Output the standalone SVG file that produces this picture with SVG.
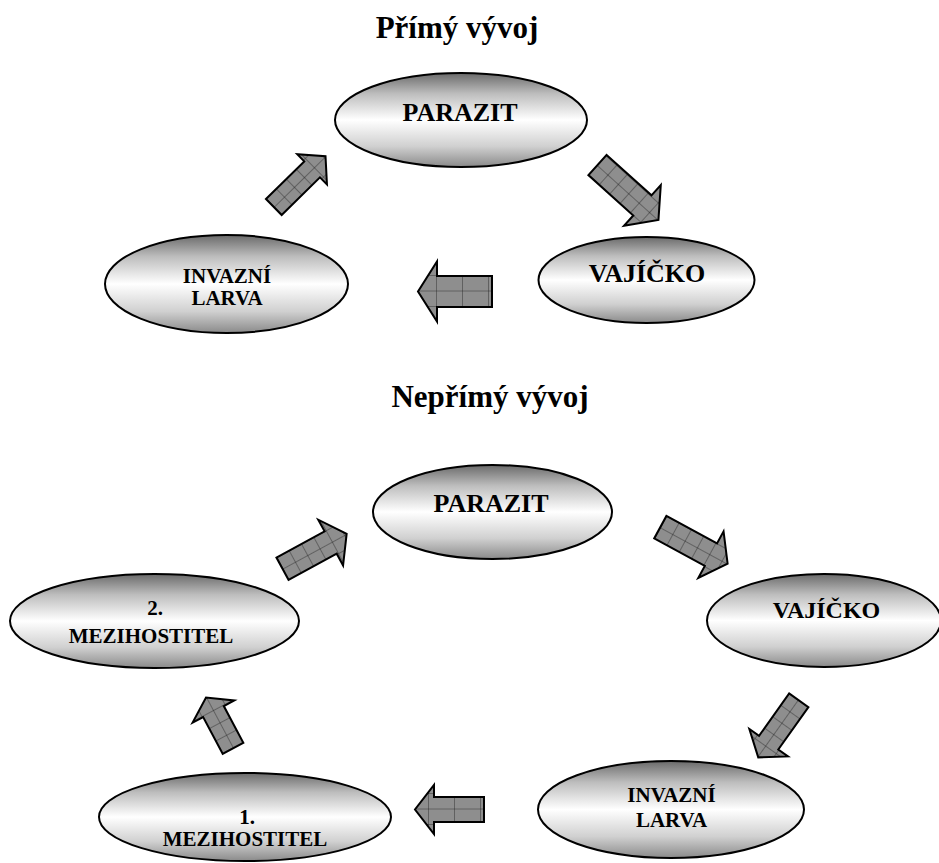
<svg xmlns="http://www.w3.org/2000/svg" width="939" height="863" viewBox="0 0 939 863">
<defs>
<linearGradient id="eg" x1="0" y1="0" x2="0" y2="1">
<stop offset="0" stop-color="#6a6a6a"/>
<stop offset="0.22" stop-color="#bdbdbd"/>
<stop offset="0.5" stop-color="#ffffff"/>
<stop offset="0.78" stop-color="#d0d0d0"/>
<stop offset="1" stop-color="#8a8a8a"/>
</linearGradient>
<pattern id="grid" patternUnits="userSpaceOnUse" x="0" y="0" width="14" height="13">
<rect width="14" height="13" fill="#8e8e8e"/>
<path d="M0 0H14M0 0V13" stroke="#1e1e1e" stroke-width="0.8" fill="none"/>
</pattern>
<pattern id="gridW" patternUnits="userSpaceOnUse" x="3" y="0" width="26" height="15.5">
<rect width="26" height="15.5" fill="#8e8e8e"/>
<path d="M0 0H26M0 0V15.5" stroke="#1e1e1e" stroke-width="0.8" fill="none"/>
</pattern>
</defs>
<style>
.node ellipse{fill:url(#eg);stroke:#000;stroke-width:2}
.lbl{font-family:"Liberation Serif","Times New Roman",serif;font-weight:bold;text-anchor:middle;fill:#000}
.title{font-family:"Liberation Serif","Times New Roman",serif;font-weight:bold;text-anchor:middle;fill:#000;font-size:31px}
.arrow{fill:url(#grid);stroke:#000;stroke-width:2;stroke-linejoin:miter}
.arrowW{fill:url(#gridW);stroke:#000;stroke-width:2;stroke-linejoin:miter}
</style>
<rect width="939" height="863" fill="#fff"/>

<text class="title" x="457" y="38">Přímý vývoj</text>
<text class="title" x="490" y="407">Nepřímý vývoj</text>

<g id="connectors">
<polygon class="arrow" transform="translate(273.8,207) rotate(-44.5)" points="0,-11.2 53.7,-11.2 53.7,-21.2 72.5,0 53.7,21.2 53.7,11.2 0,11.2"/>
<polygon class="arrow" transform="translate(597.5,165) rotate(42)" points="0,-13.6 60.4,-13.6 60.4,-27.5 82,0 60.4,27.5 60.4,13.6 0,13.6"/>
<polygon class="arrowW" transform="translate(492,291.5) rotate(180)" points="0,-15.5 55,-15.5 55,-30 74,0 55,30 55,15.5 0,15.5"/>
<polygon class="arrow" transform="translate(282.5,568.7) rotate(-28.5)" points="0,-12.7 54.8,-12.7 54.8,-26 73,0 54.8,26 54.8,12.7 0,12.7"/>
<polygon class="arrow" transform="translate(660.3,527.2) rotate(28.5)" points="0,-12.8 57.6,-12.8 57.6,-26.5 76.6,0 57.6,26.5 57.6,12.8 0,12.8"/>
<polygon class="arrow" transform="translate(798.8,700.3) rotate(125.4)" points="0,-11.8 52,-11.8 52,-23.7 70,0 52,23.7 52,11.8 0,11.8"/>
<polygon class="arrowW" transform="translate(484,809.5) rotate(180)" points="0,-12.5 50,-12.5 50,-24.5 69,0 50,24.5 50,12.5 0,12.5"/>
<polygon class="arrow" transform="translate(233,748.3) rotate(-118)" points="0,-11.7 41.6,-11.7 41.6,-23.6 57.5,0 41.6,23.6 41.6,11.7 0,11.7"/>
</g>

<g id="parazit1" class="node">
<ellipse cx="461" cy="120" rx="126" ry="47"/>
<text class="lbl" x="460" y="121" font-size="26">PARAZIT</text>
</g>
<g id="vajicko1" class="node">
<ellipse cx="646.5" cy="280" rx="108" ry="43"/>
<text class="lbl" x="647" y="282" font-size="26">VAJÍČKO</text>
</g>
<g id="larva1" class="node">
<ellipse cx="226.5" cy="284" rx="121.5" ry="49"/>
<text class="lbl" x="227" y="283" font-size="21">INVAZNÍ</text>
<text class="lbl" x="227" y="305" font-size="21">LARVA</text>
</g>

<g id="parazit2" class="node">
<ellipse cx="492.5" cy="512" rx="119.5" ry="47"/>
<text class="lbl" x="491" y="512" font-size="26">PARAZIT</text>
</g>
<g id="vajicko2" class="node">
<ellipse cx="824" cy="620.5" rx="117" ry="46.5"/>
<text class="lbl" x="826.5" y="618" font-size="24">VAJÍČKO</text>
</g>
<g id="larva2" class="node">
<ellipse cx="671" cy="809.5" rx="133" ry="48.5"/>
<text class="lbl" x="671.5" y="802" font-size="21">INVAZNÍ</text>
<text class="lbl" x="671.5" y="827" font-size="21">LARVA</text>
</g>
<g id="mezihostitel2" class="node">
<ellipse cx="154.5" cy="621" rx="144.5" ry="47"/>
<text class="lbl" x="155" y="615" font-size="21">2.</text>
<text class="lbl" x="151" y="643" font-size="21">MEZIHOSTITEL</text>
</g>
<g id="mezihostitel1" class="node">
<ellipse cx="245" cy="817" rx="146" ry="44"/>
<text class="lbl" x="247" y="824" font-size="21">1.</text>
<text class="lbl" x="245" y="846" font-size="21">MEZIHOSTITEL</text>
</g>
</svg>
